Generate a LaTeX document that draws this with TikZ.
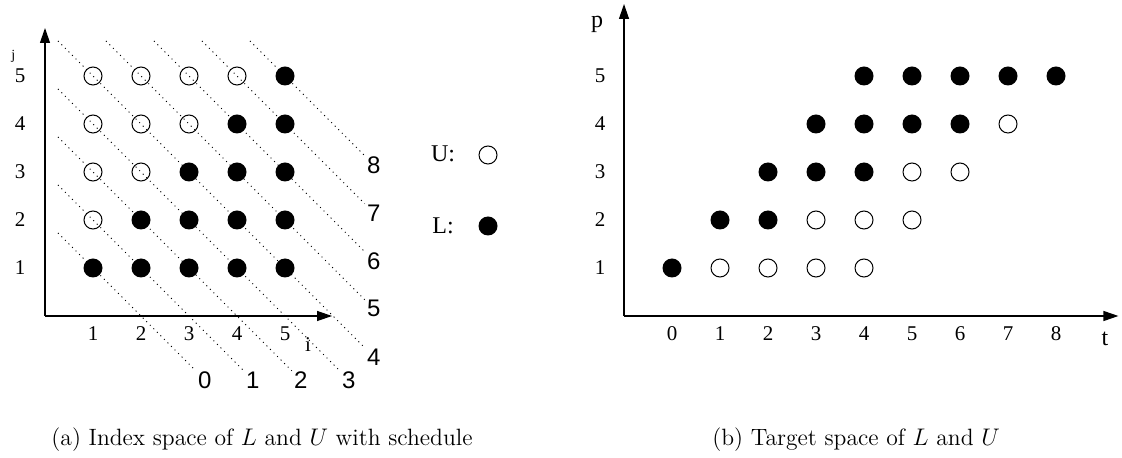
\documentclass[tikz,border=0pt]{standalone}
\usepackage{fontspec}
\newfontfamily\tms{Liberation Serif}
\newfontfamily\hlv{Liberation Sans}
\usetikzlibrary{arrows.meta}
\begin{document}
\begin{tikzpicture}[x=0.5pt,y=-0.5pt,
  axisline/.style={line width=0.6pt,-{Triangle[length=7.5pt,width=5pt]}},
  fulldot/.style={circle,fill=black,inner sep=0pt,minimum size=9.5pt},
  opendot/.style={circle,draw=black,line width=0.5pt,inner sep=0pt,minimum size=9pt},
  numtext/.style={font=\tms\fontsize{10.5}{12}\selectfont,inner sep=1pt},
  smalltext/.style={font=\tms\fontsize{7}{8}\selectfont,inner sep=1pt},
  legtext/.style={font=\tms\fontsize{12}{14}\selectfont,inner sep=1pt},
  diagline/.style={dotted,line width=0.5pt},
  dlabtext/.style={font=\hlv\fontsize{12}{14}\selectfont,inner sep=1pt},
  captext/.style={font=\fontsize{11.8}{14}\selectfont,anchor=base,inner sep=0pt}]
\useasboundingbox (0,0) rectangle (1122,458);

% ---------- left panel ----------
\begin{scope}[shift={(45,316)},x=24pt,y=24pt]
  \coordinate (lo) at (0,0);
  \coordinate (ly) at (0,6.0);
  \coordinate (lx) at (5.98,0);
  \foreach \s in {2,...,10} {
    \pgfmathtruncatemacro\lab{\s-2}
    \ifnum\s<7 \coordinate (s\s) at (0.27,{\s-0.27});
    \else \coordinate (s\s) at ({\s-5.73},5.73); \fi
    \ifnum\s<6 \node[dlabtext] (d\s) at ({\s+1.33},-1.33) {\lab};
    \else \node[dlabtext] (d\s) at (6.85,{\s-6.85}) {\lab}; \fi
    \draw[diagline] (s\s) -- (d\s);
  }
  \draw[axisline] (lo) -- (ly);
  \draw[axisline] (lo) -- (lx);
  \foreach \k in {1,...,5} {
    \node[numtext] (li\k) at (\k,-0.37) {\k};
    \node[numtext] (lj\k) at (-0.52,\k) {\k};
  }
  \node[smalltext] (jlab) at (-0.66,5.4) {j};
  \node[numtext] (ilab) at (5.48,-0.6) {i};
  \foreach \i in {1,...,5} {
    \foreach \j in {1,...,5} {
      \ifnum\i<\j \node[opendot] (a\i\j) at (\i,\j) {};
      \else \node[fulldot] (a\i\j) at (\i,\j) {}; \fi
    }
  }
\end{scope}

% ---------- legend ----------
\node[legtext] (ul) at (443,154) {U:};
\node[opendot] (uc) at (488,155) {};
\node[legtext] (ll) at (443,226) {L:};
\node[fulldot] (lc) at (488,226) {};

% ---------- right panel ----------
\begin{scope}[shift={(624,316)},x=24pt,y=24pt]
  \coordinate (ro) at (0,0);
  \coordinate (ry) at (0,6.5);
  \coordinate (rx) at (10.3,0);
  \draw[axisline] (ro) -- (ry);
  \draw[axisline] (ro) -- (rx);
  \foreach \t in {0,...,8} {
    \node[numtext] (rt\t) at ({\t+1},-0.37) {\t};
  }
  \foreach \p in {1,...,5} {
    \node[numtext] (rp\p) at (-0.5,\p) {\p};
  }
  \node[legtext] (plab) at (-0.56,6.08) {p};
  \node[legtext] (tlab) at (10.02,-0.47) {t};
  \foreach \p in {1,...,5} {
    \pgfmathtruncatemacro\fa{\p-1}
    \pgfmathtruncatemacro\fb{2*\p-2}
    \pgfmathtruncatemacro\ob{\p+3}
    \foreach \t in {0,...,8} {
      \ifnum\t<\fa\relax\else
        \ifnum\t>\fb\relax
          \ifnum\t>\ob\relax\else \node[opendot] (b\t\p) at ({\t+1},\p) {}; \fi
        \else
          \node[fulldot] (b\t\p) at ({\t+1},\p) {};
        \fi
      \fi
    }
  }
\end{scope}

% ---------- captions ----------
\node[captext] (capa) at (262,445) {(a) Index space of $L$ and $U$ with schedule};
\node[captext] (capb) at (856,445) {(b) Target space of $L$ and $U$};
\end{tikzpicture}
\end{document}
